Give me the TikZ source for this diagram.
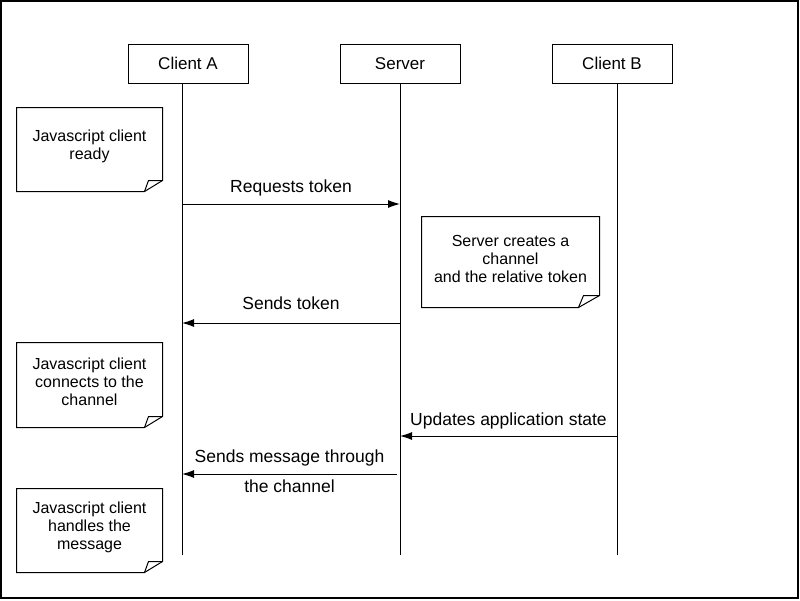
\documentclass[tikz,border=0pt]{standalone}
\usepackage{fontspec}
\setmainfont{Liberation Sans}
\usetikzlibrary{arrows.meta}

\begin{document}
\begin{tikzpicture}[x=1pt,y=-1pt,line width=1pt,
  actor/.style={draw, minimum width=120pt, minimum height=39pt, inner sep=0pt,
    font=\fontsize{17}{20}\selectfont},
  notebox/.style={minimum width=145pt, minimum height=83pt, inner sep=0pt},
  notetxt/.style={align=center, inner sep=0pt, font=\fontsize{16}{18}\selectfont},
  msg/.style={-{Latex[length=12pt,width=8pt]}},
  msglabel/.style={font=\fontsize{17.5}{20}\selectfont, text height=0.75em, text depth=0.25em}]
\useasboundingbox (0,0) rectangle (800,600);
\draw[line width=2pt] (1,1) rectangle (798,598);
% participants
\node[actor] (clientA) at (188,63.5) {Client A};
\node[actor] (server) at (400,63.5) {Server};
\node[actor] (clientB) at (612,63.5) {Client B};
% lifelines
\coordinate (aTop) at (182,83);
\coordinate (aEnd) at (182,555);
\coordinate (sTop) at (400,83);
\coordinate (sEnd) at (400,555);
\coordinate (bTop) at (617,83);
\coordinate (bEnd) at (617,555);
\path [-] (aTop) edge (aEnd);
\path [-] (sTop) edge (sEnd);
\path [-] (bTop) edge (bEnd);
% notes
\node[notebox] (ready) at (89.5,149.5) {};
\node[notebox, minimum height=84pt] (connects) at (89.5,385) {};
\node[notebox] (handles) at (89.5,530.5) {};
\node[notebox, minimum width=177pt, minimum height=90pt] (creates) at (510.5,262) {};
\node[notetxt] (readyTxt) at (89.5,146) {Javascript client\\ready};
\node[notetxt] (connectsTxt) at (89.5,381.5) {Javascript client\\connects to the\\channel};
\node[notetxt] (handlesTxt) at (89.5,527) {Javascript client\\handles the\\message};
\node[notetxt] (createsTxt) at (510.5,259) {Server creates a\\channel\\and the relative token};
\draw (ready.north west) -- (ready.north east) -- ([yshift=11pt]ready.south east)
  -- ([xshift=-18pt]ready.south east) -- (ready.south west) -- cycle;
\draw ([yshift=11pt]ready.south east) -- ([xshift=-14pt,yshift=11pt]ready.south east)
  -- ([xshift=-18pt]ready.south east);
\draw (connects.north west) -- (connects.north east) -- ([yshift=11pt]connects.south east)
  -- ([xshift=-18pt]connects.south east) -- (connects.south west) -- cycle;
\draw ([yshift=11pt]connects.south east) -- ([xshift=-14pt,yshift=11pt]connects.south east)
  -- ([xshift=-18pt]connects.south east);
\draw (handles.north west) -- (handles.north east) -- ([yshift=11pt]handles.south east)
  -- ([xshift=-18pt]handles.south east) -- (handles.south west) -- cycle;
\draw ([yshift=11pt]handles.south east) -- ([xshift=-14pt,yshift=11pt]handles.south east)
  -- ([xshift=-18pt]handles.south east);
\draw (creates.north west) -- (creates.north east) -- ([yshift=12pt]creates.south east)
  -- ([xshift=-21pt]creates.south east) -- (creates.south west) -- cycle;
\draw ([yshift=12pt]creates.south east) -- ([xshift=-16pt,yshift=12pt]creates.south east)
  -- ([xshift=-21pt]creates.south east);
% messages
\coordinate (a1) at (182,204);
\coordinate (s1) at (400,204);
\coordinate (s2) at (400,323);
\coordinate (a2) at (182,323);
\coordinate (b3) at (617,436);
\coordinate (s3) at (400,436);
\coordinate (s4) at (397,474);
\coordinate (a4) at (182,474);
\path [msg] (a1) edge node[msglabel, above=5pt] (reqLbl) {Requests token} (s1);
\path [msg] (s2) edge node[msglabel, above=7pt] (sendLbl) {Sends token} (a2);
\path [msg] (b3) edge node[msglabel, above=4pt] (updLbl) {Updates application state} (s3);
\path [msg] (s4) edge node[msglabel, above=5pt] (msgLbl) {Sends message through}
  node[msglabel, below=7pt] (msgLblB) {the channel} (a4);
\end{tikzpicture}
\end{document}
